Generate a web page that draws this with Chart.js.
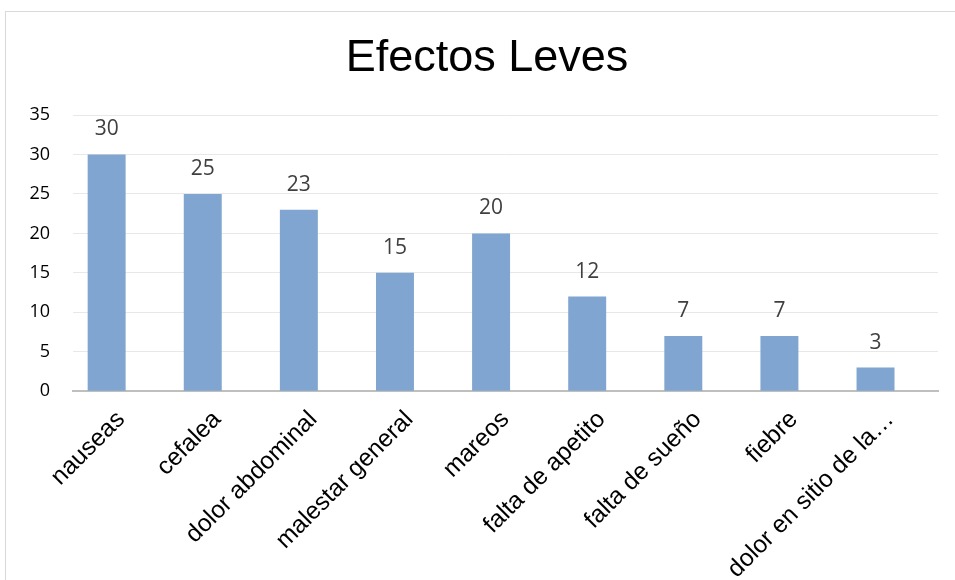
<!DOCTYPE html>
<html>
<head>
<meta charset="utf-8">
<script src="https://cdn.jsdelivr.net/npm/chart.js@4"></script>
<style>
  html, body { margin: 0; padding: 0; background: #fff; overflow: hidden; }
  #frame {
    position: absolute; left: 5px; top: 11px;
    width: 966px; height: 600px;
    border: 1px solid #d9d9d9;
  }
</style>
</head>
<body>
<div id="frame"><canvas id="chart" width="962" height="586"></canvas></div>
<script>
const categories = [
  "nauseas", "cefalea", "dolor abdominal", "malestar general", "mareos",
  "falta de apetito", "falta de sueño", "fiebre", "dolor en sitio de la…"
];
const counts = [30, 25, 23, 15, 20, 12, 7, 7, 3];
const yTicks = [0, 5, 10, 15, 20, 25, 30, 35];

// bars sit a bit left of their labels, so the x axis is linear:
// bar i is centred on x = i, its label is placed at i + LABEL_SHIFT
const LABEL_SHIFT = 0.15;
const barPoints = counts.map((v, i) => ({ x: i, y: v }));

// value labels drawn above each bar
const barValues = {
  id: "barValues",
  afterDatasetsDraw(chart) {
    const ctx = chart.ctx;
    const meta = chart.getDatasetMeta(0);
    ctx.save();
    ctx.fillStyle = "#404040";
    ctx.font = "21px 'Open Sans', sans-serif";
    ctx.textAlign = "center";
    ctx.textBaseline = "middle";
    meta.data.forEach((bar, i) => {
      ctx.fillText(String(counts[i]), bar.x, bar.y - 25);
    });
    ctx.restore();
  }
};

new Chart(document.getElementById("chart"), {
  type: "bar",
  data: {
    datasets: [{
      data: barPoints,
      backgroundColor: "#7fa5d0",
      barPercentage: 0.395,
      categoryPercentage: 1
    }]
  },
  plugins: [barValues],
  options: {
    responsive: false,
    animation: false,
    layout: { padding: 0 },
    plugins: {
      legend: { display: false },
      tooltip: { enabled: false },
      title: {
        display: true,
        text: "Efectos Leves",
        color: "#000",
        font: { family: "'Liberation Sans', Arial, sans-serif", size: 45, weight: "normal" },
        padding: { top: 20, bottom: 29 }
      }
    },
    scales: {
      y: {
        min: 0,
        max: 35,
        afterBuildTicks(axis) { axis.ticks = yTicks.map(v => ({ value: v })); },
        afterFit(axis) { axis.width = 67; },
        grid: { color: "#e8e8e8", lineWidth: 1, drawTicks: false },
        border: { display: false },
        ticks: {
          color: "#000",
          padding: 23,
          font: { family: "'Open Sans', sans-serif", size: 18 }
        }
      },
      x: {
        type: "linear",
        position: "bottom",
        offset: false,
        min: -0.35,
        max: categories.length - 0.35,
        afterBuildTicks(axis) {
          axis.ticks = categories.map((c, i) => ({ value: i + LABEL_SHIFT }));
        },
        afterFit(axis) { axis.paddingLeft = 0; axis.paddingRight = 30; },
        grid: { display: false, drawTicks: false },
        border: { display: true, color: "#bfbfbf", width: 2 },
        ticks: {
          color: "#000",
          minRotation: 45,
          maxRotation: 45,
          autoSkip: false,
          padding: 14,
          callback: (value, index) => categories[index],
          font: { family: "'Liberation Sans', Arial, sans-serif", size: 24.5 }
        }
      }
    }
  }
});
</script>
</body>
</html>
